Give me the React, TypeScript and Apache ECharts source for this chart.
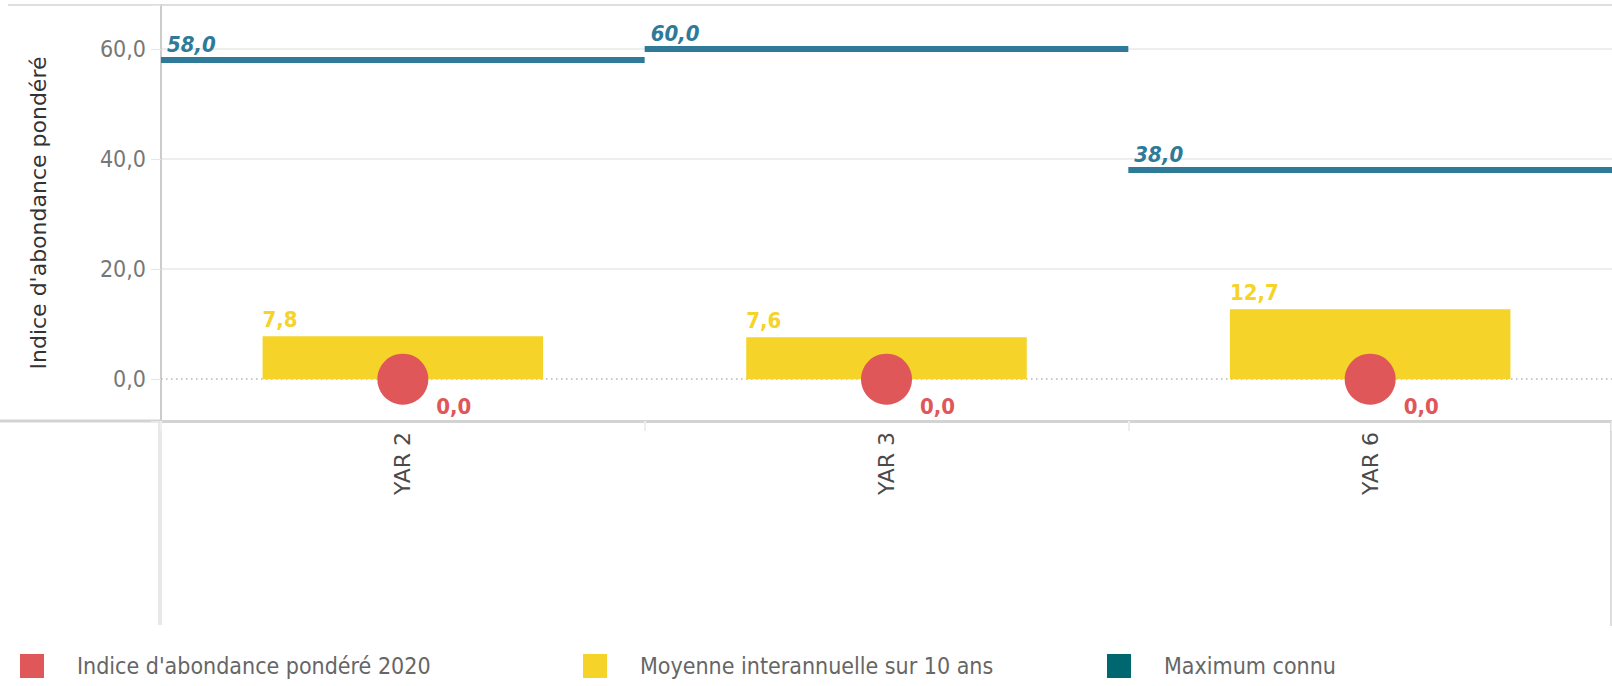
import React, { useEffect, useRef } from "react";
import * as echarts from "echarts";

const categories = ["YAR 2", "YAR 3", "YAR 6"];
const indice2020 = [0.0, 0.0, 0.0];
const moyenne10ans = [7.8, 7.6, 12.7];
const maximumConnu = [58.0, 60.0, 38.0];
const yTickValues = [0, 20, 40, 60];

const SERIES_INDICE = "Indice d'abondance pondéré 2020";
const SERIES_MOYENNE = "Moyenne interannuelle sur 10 ans";
const SERIES_MAX = "Maximum connu";
const AXIS_NAME = "Indice d'abondance pondéré";

const RED = "#e0575a";
const YELLOW = "#f5d329";
const BLUE = "#2e7a98";
const TEAL = "#006670";
const COND = '"DejaVu Sans Condensed", "DejaVu Sans", sans-serif';
const SANS = '"DejaVu Sans", Verdana, sans-serif';

const fmt = (v: number) => v.toFixed(1).replace(".", ",");

export default function App() {
  const ref = useRef<HTMLDivElement>(null);
  useEffect(() => {
    if (!ref.current) return;
    const chart = echarts.init(ref.current, undefined, { renderer: "svg" });
    const legendBase = {
      orient: "horizontal",
      top: 654,
      padding: 0,
      itemWidth: 24,
      itemHeight: 24,
      icon: "rect",
      selectedMode: false,
      textStyle: {
        fontFamily: COND,
        fontSize: 23,
        color: "#666",
        padding: [0, 0, 0, 28],
      },
    };
    chart.setOption({
      animation: false,
      backgroundColor: "#fff",
      grid: { left: 161, right: 0, top: 5, height: 416, containLabel: false },
      legend: [
        { ...legendBase, left: 20, data: [{ name: SERIES_INDICE, itemStyle: { color: RED } }] },
        { ...legendBase, left: 583, data: [{ name: SERIES_MOYENNE, itemStyle: { color: YELLOW } }] },
        { ...legendBase, left: 1107, data: [{ name: SERIES_MAX, itemStyle: { color: TEAL } }] },
      ],
      xAxis: {
        type: "category",
        data: categories,
        boundaryGap: true,
        axisLine: { show: true, onZero: false, lineStyle: { color: "#d3d3d3", width: 3 } },
        axisTick: { show: true, length: 10, lineStyle: { color: "#eeeeee", width: 2 } },
        axisLabel: {
          rotate: 90,
          margin: 11,
          color: "#4a4a4a",
          fontFamily: SANS,
          fontSize: 22,
        },
        splitLine: { show: false },
      },
      yAxis: {
        type: "value",
        min: -7.6,
        max: 68,
        splitNumber: 4,
        name: AXIS_NAME,
        nameLocation: "middle",
        nameGap: 112,
        nameTextStyle: { color: "#333", fontFamily: SANS, fontSize: 22 },
        axisLine: { show: true, onZero: false, lineStyle: { color: "#cccccc", width: 2 } },
        axisTick: {
          show: true,
          length: 10,
          lineStyle: { color: "#e6e6e6", width: 1 },
        },
        axisLabel: {
          margin: 15,
          color: "#777",
          fontFamily: COND,
          fontSize: 23,
          formatter: (v: number) =>
            yTickValues.some((t) => Math.abs(t - v) < 1e-9) ? fmt(v) : "",
        },
        splitLine: {
          show: true,
          lineStyle: {
            color: ["transparent", "transparent", "#eeeeee", "#eeeeee", "#eeeeee", "transparent"],
            width: 2,
          },
        },
      },
      graphic: [
        { type: "line", silent: true, z: 0, shape: { x1: 8, y1: 5, x2: 1612, y2: 5 }, style: { stroke: "#dedede", lineWidth: 2 } },
        { type: "line", silent: true, z: 0, shape: { x1: 0, y1: 421, x2: 161, y2: 421 }, style: { stroke: "#d3d3d3", lineWidth: 3 } },
        { type: "line", silent: true, z: 0, shape: { x1: 160, y1: 421, x2: 160, y2: 625 }, style: { stroke: "#e8e8e8", lineWidth: 4 } },
        { type: "line", silent: true, z: 0, shape: { x1: 1611, y1: 421, x2: 1611, y2: 626 }, style: { stroke: "#dddddd", lineWidth: 2 } },
      ],
      series: [
        {
          name: SERIES_MOYENNE,
          type: "bar",
          data: moyenne10ans,
          barWidth: "58%",
          itemStyle: { color: YELLOW },
          z: 2,
          label: {
            show: true,
            position: [0, -6],
            align: "left",
            verticalAlign: "bottom",
            color: YELLOW,
            fontFamily: COND,
            fontSize: 22,
            fontWeight: "bold",
            formatter: (p: any) => fmt(p.value),
          },
          markLine: {
            silent: true,
            symbol: "none",
            z: 1,
            label: { show: false },
            lineStyle: { type: [1.5, 3.5], color: "#b5b5b5", width: 1.5 },
            data: [{ yAxis: 0 }],
          },
        },
        {
          name: SERIES_INDICE,
          type: "scatter",
          data: indice2020,
          symbol: "circle",
          symbolSize: 51,
          itemStyle: { color: RED, opacity: 1 },
          z: 4,
          label: {
            show: true,
            position: "right",
            distance: 8,
            offset: [0, 27],
            color: RED,
            fontFamily: COND,
            fontSize: 22,
            fontWeight: "bold",
            formatter: (p: any) => fmt(p.value),
          },
        },
        {
          name: SERIES_MAX,
          type: "custom",
          data: maximumConnu.map((v, i) => [i, v]),
          encode: { x: 0, y: 1 },
          z: 3,
          itemStyle: { color: BLUE },
          renderItem: (params: any, api: any) => {
            const idx = api.value(0);
            const val = api.value(1);
            const pt = api.coord([idx, val]);
            const bw = api.size([1, 0])[0];
            const x0 = pt[0] - bw / 2;
            const th = 6;
            return {
              type: "group",
              children: [
                {
                  type: "rect",
                  shape: { x: x0, y: pt[1] - th / 2, width: bw, height: th },
                  style: { fill: BLUE },
                },
                {
                  type: "text",
                  x: x0 + 6,
                  y: pt[1] - th / 2 - 2,
                  style: {
                    text: fmt(val),
                    fill: BLUE,
                    fontFamily: COND,
                    fontSize: 22,
                    fontWeight: "bold",
                    fontStyle: "italic",
                    align: "left",
                    verticalAlign: "bottom",
                  },
                },
              ],
            };
          },
        },
      ],
    });
    return () => chart.dispose();
  }, []);
  return (
    <div
      ref={ref}
      style={{ position: "fixed", left: 0, top: 0, width: 1612, height: 686, background: "#fff" }}
    />
  );
}
